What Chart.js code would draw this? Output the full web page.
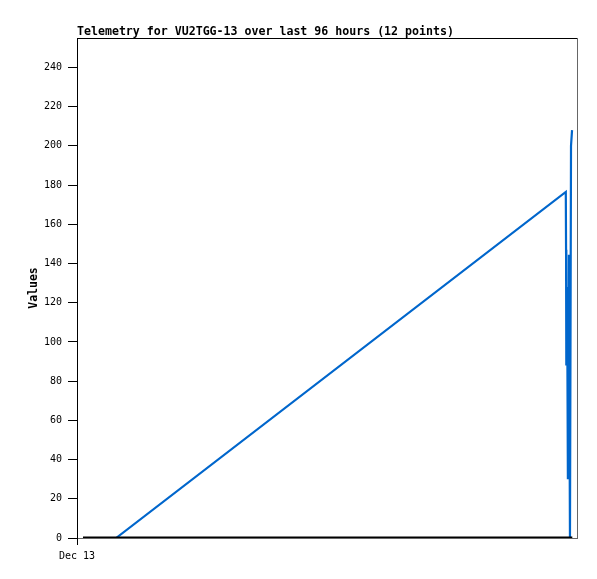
<!DOCTYPE html>
<html><head><meta charset="utf-8">
<script src="https://cdn.jsdelivr.net/npm/chart.js@4/dist/chart.umd.min.js"></script>
<style>html,body{margin:0;padding:0;background:#fff}canvas{display:block}</style>
</head><body>
<canvas id="c" width="597" height="579"></canvas>
<script>
const titleText = 'Telemetry for VU2TGG-13 over last 96 hours (12 points)';
const yAxisTitle = 'Values';
// hours since start of window (0..96)
const blueHours  = [1.15, 7.5, 93.85, 93.9, 93.95, 94.1, 94.25, 94.45, 94.65, 94.85, 94.95, 95.05];
const blueValues = [0,    0,   176.5, 147,  88,    128,  30,    144.5, 0,     200,   200,   208];
const zeroHours  = [1.15, 95.1];
const zeroValues = [0, 0];
const yTicks = [0,20,40,60,80,100,120,140,160,180,200,220,240];
const xTickHours = [0];
const xTickLabels = ['Dec 13'];

const mono = "'DejaVu Sans Mono', 'Liberation Mono', monospace";

const framePlugin = {
  id: 'frame',
  afterDraw(chart) {
    const {ctx, chartArea: a} = chart;
    ctx.save();
    ctx.lineWidth = 1;
    ctx.strokeStyle = '#000';
    ctx.beginPath(); ctx.moveTo(a.left, a.top + 0.5); ctx.lineTo(a.right, a.top + 0.5); ctx.stroke();
    ctx.strokeStyle = '#666';
    ctx.beginPath(); ctx.moveTo(a.right + 0.5, a.top); ctx.lineTo(a.right + 0.5, a.bottom); ctx.stroke();
    ctx.fillStyle = '#000';
    ctx.font = 'bold 11.6px ' + mono;
    ctx.textBaseline = 'alphabetic';
    ctx.textAlign = 'left';
    ctx.fillText(titleText, a.left, a.top - 3);
    ctx.restore();
  }
};

new Chart(document.getElementById('c'), {
  type: 'line',
  data: {
    datasets: [
      { data: zeroHours.map((h,i)=>({x:h, y:zeroValues[i]})), borderColor:'#000', borderWidth:3, pointRadius:0, tension:0 },
      { data: blueHours.map((h,i)=>({x:h, y:blueValues[i]})), borderColor:'#0066cc', borderWidth:2.2, pointRadius:0, tension:0 }
    ]
  },
  options: {
    responsive:false, animation:false,
    layout:{padding:{top:38, right:20, left:0, bottom:0}},
    plugins:{legend:{display:false}, tooltip:{enabled:false}, title:{display:false}},
    scales:{
      x:{
        type:'linear', min:0, max:96,
        afterBuildTicks(s){ s.ticks = xTickHours.map(v=>({value:v})); },
        afterFit(s){ s.height = 41; },
        ticks:{ autoSkip:false, maxRotation:0, color:'#000', padding:5,
          font:{family:mono, size:10},
          callback(v){ const i = xTickHours.indexOf(v); return i>=0 ? xTickLabels[i] : ''; } },
        grid:{ display:true, drawOnChartArea:false, drawTicks:true, tickLength:7, color:'#000' },
        border:{ display:true, color:'#666', width:1 }
      },
      y:{
        min:0, max:255,
        afterBuildTicks(s){ s.ticks = yTicks.map(v=>({value:v})); },
        afterFit(s){ s.width = 77; },
        ticks:{ color:'#000', padding:6, font:{family:mono, size:10} },
        grid:{ display:true, drawOnChartArea:false, drawTicks:true, tickLength:9, color:'#000' },
        border:{ display:true, color:'#000', width:1 },
        title:{ display:true, text:yAxisTitle, color:'#000', font:{family:mono, size:11.5, weight:'bold'}, padding:{top:27, bottom:0} }
      }
    }
  },
  plugins:[framePlugin]
});
</script>
</body></html>
